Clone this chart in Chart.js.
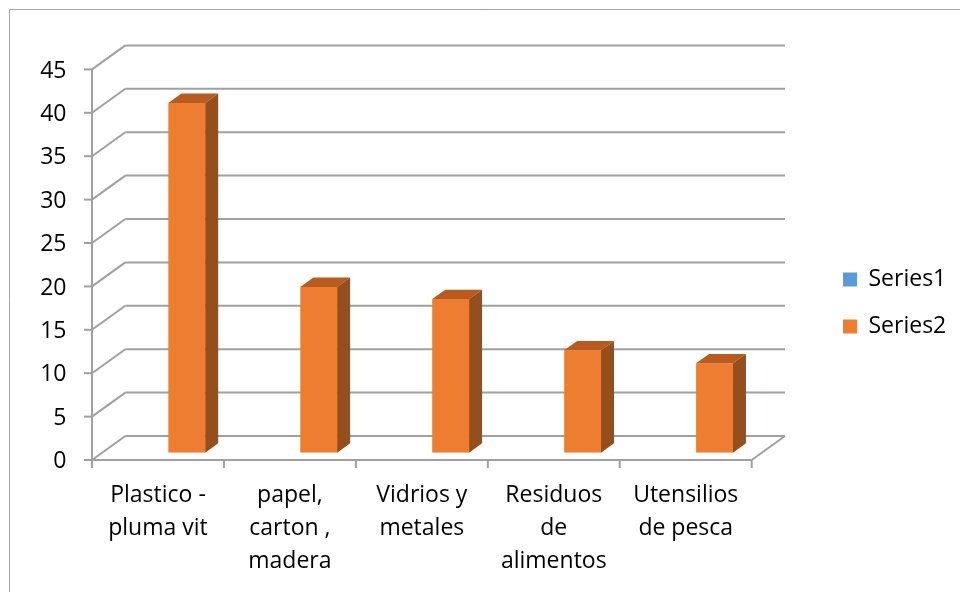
<!DOCTYPE html>
<html>
<head>
<meta charset="utf-8">
<script src="https://cdn.jsdelivr.net/npm/chart.js@4.4.1/dist/chart.umd.min.js"></script>
<style>
  html, body { margin: 0; padding: 0; background: #fff; }
</style>
</head>
<body>
<canvas id="chart" width="960" height="592"></canvas>
<script>
// datos
const categories = [
  ['Plastico -', 'pluma vit'],
  ['papel,', 'carton ,', 'madera'],
  ['Vidrios y', 'metales'],
  ['Residuos', 'de', 'alimentos'],
  ['Utensilios', 'de pesca']
];
const series1 = [null, null, null, null, null];
const series2 = [40.3, 19.1, 17.7, 11.8, 10.3];
const yMin = 0;
const yMax = 45;
const yStep = 5;

// desplazamientos del efecto 3D (plano de barras -> frente / fondo)
const FRONT = { dx: -10, dy: 7.3 };
const BACK = { dx: 23.3, dy: -16.7 };
const DEPTH = { dx: 13, dy: -9.4 };
const GRID = '#a0a0a0';

Chart.defaults.font.family = "'Open Sans', sans-serif";
Chart.defaults.color = '#000';

function line(ctx, x1, y1, x2, y2) {
  ctx.beginPath();
  ctx.moveTo(x1, y1);
  ctx.lineTo(x2, y2);
  ctx.stroke();
}

const box3d = {
  id: 'box3d',
  beforeDraw(chart) {
    const { ctx, width, height } = chart;
    ctx.save();
    ctx.fillStyle = '#fff';
    ctx.fillRect(0, 0, width, height);
    ctx.strokeStyle = '#a6a6a6';
    ctx.lineWidth = 1;
    line(ctx, 9.5, 9.5, width, 9.5);
    line(ctx, 9.5, 9.5, 9.5, height);
    ctx.restore();
  },
  afterLayout(chart) {
    // leyenda a la derecha, fuera del área
    const lg = chart.legend;
    lg.left = 819; lg.right = 958;
    lg.top = 244; lg.bottom = 444;
    lg.width = lg.right - lg.left;
    lg.height = lg.bottom - lg.top;
  },
  beforeDatasetsDraw(chart) {
    const { ctx, chartArea: a, scales: { y } } = chart;
    ctx.save();
    ctx.strokeStyle = GRID;
    ctx.lineWidth = 2;
    y.ticks.forEach(t => {
      const py = y.getPixelForValue(t.value);
      line(ctx, a.left + BACK.dx, py + BACK.dy, a.right + BACK.dx, py + BACK.dy);
      line(ctx, a.left + FRONT.dx, py + FRONT.dy, a.left + BACK.dx, py + BACK.dy);
      line(ctx, a.left + FRONT.dx - 8, py + FRONT.dy, a.left + FRONT.dx, py + FRONT.dy);
    });
    const y0 = y.getPixelForValue(yMin);
    const yTop = y.getPixelForValue(yMax);
    line(ctx, a.left + FRONT.dx, y0 + FRONT.dy + 8, a.left + FRONT.dx, yTop + FRONT.dy);
    line(ctx, a.left + FRONT.dx, y0 + FRONT.dy, a.right + FRONT.dx, y0 + FRONT.dy);
    line(ctx, a.right + FRONT.dx, y0 + FRONT.dy, a.right + BACK.dx, y0 + BACK.dy);
    const step = a.width / categories.length;
    for (let k = 1; k <= categories.length; k++) {
      const px = a.left + k * step + FRONT.dx;
      line(ctx, px, y0 + FRONT.dy, px, y0 + FRONT.dy + 8);
    }
    ctx.restore();
  },
  afterDatasetsDraw(chart) {
    const { ctx } = chart;
    ctx.save();
    chart.getDatasetMeta(1).data.forEach(bar => {
      const { x, y, base, width } = bar.getProps(['x', 'y', 'base', 'width'], true);
      const l = x - width / 2, r = x + width / 2;
      ctx.fillStyle = '#b95b1e';
      ctx.beginPath();
      ctx.moveTo(l, y);
      ctx.lineTo(r, y);
      ctx.lineTo(r + DEPTH.dx, y + DEPTH.dy);
      ctx.lineTo(l + DEPTH.dx, y + DEPTH.dy);
      ctx.closePath();
      ctx.fill();
      ctx.fillStyle = '#954f1d';
      ctx.beginPath();
      ctx.moveTo(r, y);
      ctx.lineTo(r + DEPTH.dx, y + DEPTH.dy);
      ctx.lineTo(r + DEPTH.dx, base + DEPTH.dy);
      ctx.lineTo(r, base);
      ctx.closePath();
      ctx.fill();
    });
    ctx.restore();
  }
};

new Chart(document.getElementById('chart'), {
  type: 'bar',
  data: {
    labels: categories,
    datasets: [
      { label: 'Series1', data: series1, backgroundColor: '#5b9bd5', borderWidth: 0,
        categoryPercentage: 0.57, barPercentage: 0.98 },
      { label: 'Series2', data: series2, backgroundColor: '#ed7d31', borderWidth: 0,
        categoryPercentage: 0.57, barPercentage: 0.98 }
    ]
  },
  options: {
    responsive: false,
    animation: false,
    layout: { padding: { top: 62.1, right: 198.3, bottom: 0, left: 0 } },
    plugins: {
      legend: {
        position: 'chartArea',
        align: 'start',
        labels: { boxWidth: 14, boxHeight: 14, padding: 24, font: { size: 23 }, color: '#000' }
      },
      tooltip: { enabled: false }
    },
    scales: {
      x: {
        grid: { display: false, drawTicks: false },
        border: { display: false },
        ticks: { padding: 26, labelOffset: -10, maxRotation: 0, autoSkip: false,
                 font: { size: 23, lineHeight: 1.435 }, color: '#000' },
        afterFit(scale) { scale.height = 139.3; }
      },
      y: {
        min: yMin,
        max: yMax,
        grid: { display: false, drawTicks: false },
        border: { display: false },
        ticks: { stepSize: yStep, padding: 35.5, labelOffset: 9, font: { size: 23 }, color: '#000' },
        afterFit(scale) { scale.width = 102; }
      }
    }
  },
  plugins: [box3d]
});
</script>
</body>
</html>
